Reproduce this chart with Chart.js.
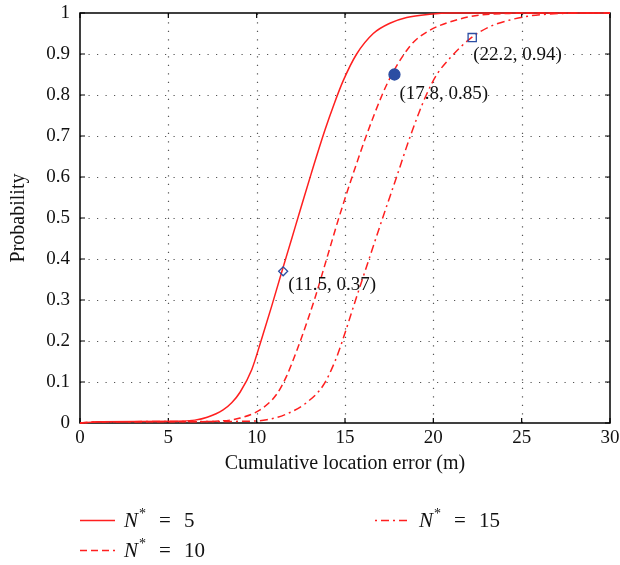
<!DOCTYPE html>
<html>
<head>
<meta charset="utf-8">
<script src="https://cdn.jsdelivr.net/npm/chart.js@4/dist/chart.umd.min.js"></script>
<style>
  html, body { margin: 0; padding: 0; background: #fff; }
  #wrap { width: 620px; height: 565px; }
</style>
</head>
<body>
<div id="wrap"><canvas id="c" width="620" height="565"></canvas></div>
<script>
// ---- data ----
const n5X  = [0, 1.2, 5.5, 6.5, 7.2, 8.1, 8.6, 9.06, 9.72, 10.28, 10.85, 11.41, 12.0, 12.45, 13.1, 13.87, 14.4, 14.9, 15.66, 16.6, 17.54, 18.49, 19.8, 21, 30];
const n5Y  = [0, 0.003, 0.004, 0.007, 0.014, 0.032, 0.05, 0.075, 0.13, 0.205, 0.285, 0.367, 0.452, 0.517, 0.61, 0.715, 0.78, 0.835, 0.9, 0.95, 0.975, 0.989, 0.997, 1, 1];
const n10X = [0, 1.2, 6, 8, 9.06, 10.19, 11.13, 11.7, 12.3, 12.8, 13.3, 13.96, 14.65, 15.4, 16.2, 17.1, 17.65, 18.35, 18.9, 19.8, 21.3, 22.64, 24.3, 26, 30];
const n10Y = [0, 0.003, 0.003, 0.005, 0.012, 0.032, 0.07, 0.115, 0.18, 0.24, 0.305, 0.4, 0.5, 0.6, 0.7, 0.8, 0.85, 0.9, 0.93, 0.958, 0.983, 0.995, 0.999, 1, 1];
const n15X = [0, 1.2, 9, 10.57, 11.7, 12.83, 13.77, 14.43, 14.85, 15.6, 16.4, 17.17, 17.92, 18.7, 19.6, 20.2, 20.94, 22.1, 23.2, 24.34, 25.47, 27.3, 28.5, 30];
const n15Y = [0, 0.003, 0.004, 0.008, 0.022, 0.05, 0.092, 0.15, 0.2, 0.3, 0.405, 0.505, 0.6, 0.7, 0.8, 0.85, 0.89, 0.938, 0.967, 0.983, 0.993, 0.999, 1, 1];
const seriesLabels = ['5', '10', '15'];
const markerX = [11.5, 17.8, 22.2];
const markerY = [0.37, 0.85, 0.94];
const markerLabels = ['(11.5, 0.37)', '(17.8, 0.85)', '(22.2, 0.94)'];
const xTickLabels = ['0', '5', '10', '15', '20', '25', '30'];
const yTickLabels = ['0', '0.1', '0.2', '0.3', '0.4', '0.5', '0.6', '0.7', '0.8', '0.9', '1'];

const SERIF = "'Liberation Serif', 'Times New Roman', serif";
const RED = '#ff1f1f';
const BLUE = '#2c4ea3';
const pts = (xs, ys) => xs.map((x, i) => ({ x, y: ys[i] }));

const decor = {
  id: 'decor',
  beforeDatasetsDraw(chart) {
    const { ctx, chartArea: a, scales: { x, y } } = chart;
    ctx.save();
    // dotted grid
    ctx.strokeStyle = '#555';
    ctx.lineWidth = 1.2;
    ctx.setLineDash([1.2, 7.3]);
    ctx.beginPath();
    x.ticks.forEach(t => {
      const p = Math.round(x.getPixelForValue(t.value)) + 0.5;
      if (p > a.left + 2 && p < a.right - 2) { ctx.moveTo(p, a.bottom); ctx.lineTo(p, a.top); }
    });
    y.ticks.forEach(t => {
      const p = Math.round(y.getPixelForValue(t.value)) + 0.5;
      if (p > a.top + 2 && p < a.bottom - 2) { ctx.moveTo(a.left, p); ctx.lineTo(a.right, p); }
    });
    ctx.stroke();
    ctx.setLineDash([]);
    // frame
    ctx.strokeStyle = '#000';
    ctx.lineWidth = 1.5;
    ctx.strokeRect(a.left, a.top, a.right - a.left, a.bottom - a.top);
    // inner ticks
    ctx.lineWidth = 1.2;
    ctx.beginPath();
    x.ticks.forEach(t => {
      const p = x.getPixelForValue(t.value);
      ctx.moveTo(p, a.bottom); ctx.lineTo(p, a.bottom - 5);
      ctx.moveTo(p, a.top); ctx.lineTo(p, a.top + 5);
    });
    y.ticks.forEach(t => {
      const p = y.getPixelForValue(t.value);
      ctx.moveTo(a.left, p); ctx.lineTo(a.left + 5, p);
      ctx.moveTo(a.right, p); ctx.lineTo(a.right - 5, p);
    });
    ctx.stroke();
    ctx.restore();
  },
  afterDatasetsDraw(chart) {
    const { ctx, scales: { x, y } } = chart;
    const off = [[5, 14], [5, 20], [1, 17]];
    ctx.save();
    ctx.font = '19px ' + SERIF;
    ctx.fillStyle = '#111';
    ctx.textBaseline = 'middle';
    ctx.textAlign = 'left';
    markerLabels.forEach((s, i) => {
      ctx.fillText(s, x.getPixelForValue(markerX[i]) + off[i][0], y.getPixelForValue(markerY[i]) + off[i][1]);
    });
    ctx.restore();
  },
  afterDraw(chart) {
    const { ctx } = chart;
    const spots = [[80, 520], [80, 550], [375, 520]];
    const dashes = [[], [7, 4], [2, 4, 8, 4]];
    ctx.save();
    seriesLabels.forEach((lab, i) => {
      const [lx, ly] = spots[i];
      ctx.strokeStyle = RED;
      ctx.lineWidth = 1.6;
      ctx.setLineDash(dashes[i]);
      ctx.beginPath();
      ctx.moveTo(lx, ly + 0.5); ctx.lineTo(lx + 35, ly + 0.5);
      ctx.stroke();
      ctx.setLineDash([]);
      ctx.fillStyle = '#111';
      ctx.textBaseline = 'middle';
      ctx.textAlign = 'left';
      const tx = lx + 44;
      ctx.font = 'italic 21px ' + SERIF;
      ctx.fillText('N', tx, ly + 1);
      const nw = ctx.measureText('N').width;
      ctx.font = '14px ' + SERIF;
      ctx.fillText('*', tx + nw + 1, ly - 6);
      ctx.font = '21px ' + SERIF;
      ctx.fillText('=', tx + 35, ly + 1);
      ctx.fillText(lab, tx + 60, ly + 1);
    });
    ctx.restore();
  }
};

const lineBase = { showLine: true, pointRadius: 0, borderColor: RED, borderWidth: 1.5, cubicInterpolationMode: 'monotone', clip: 4, order: 1, fill: false };

new Chart(document.getElementById('c'), {
  type: 'scatter',
  data: {
    datasets: [
      { label: 'N* = 5', data: pts(n5X, n5Y), ...lineBase },
      { label: 'N* = 10', data: pts(n10X, n10Y), ...lineBase, borderDash: [7, 4] },
      { label: 'N* = 15', data: pts(n15X, n15Y), ...lineBase, borderDash: [8, 4, 2, 4] },
      {
        label: 'markers', data: pts(markerX, markerY), showLine: false, order: 0, clip: false,
        pointStyle: ['rectRot', 'circle', 'rect'], pointRadius: [4.5, 5.5, 5.8],
        backgroundColor: ['rgba(0,0,0,0)', BLUE, 'rgba(0,0,0,0)'], borderColor: BLUE, borderWidth: 1.3
      }
    ]
  },
  options: {
    responsive: false,
    animation: false,
    layout: { padding: { top: 13, right: 10, bottom: 85, left: 0 } },
    plugins: { legend: { display: false }, tooltip: { enabled: false } },
    scales: {
      x: {
        type: 'linear', min: 0, max: 30,
        afterBuildTicks: s => { s.ticks = xTickLabels.map(v => ({ value: Number(v) })); },
        afterFit: s => { s.height = 57; s.paddingLeft = 0; s.paddingRight = 0; s.paddingTop = 0; s.paddingBottom = 0; },
        grid: { display: false, drawTicks: false }, border: { display: false },
        ticks: { padding: 4, color: '#111', font: { family: SERIF, size: 19 }, maxRotation: 0,
                 callback: (v, i) => xTickLabels[i] },
        title: { display: true, text: 'Cumulative location error (m)', color: '#111',
                 font: { family: SERIF, size: 20 }, padding: { top: 0, bottom: 4 } }
      },
      y: {
        type: 'linear', min: 0, max: 1,
        afterBuildTicks: s => { s.ticks = yTickLabels.map(v => ({ value: Number(v) })); },
        afterFit: s => { s.width = 80; s.paddingTop = 0; s.paddingBottom = 0; s.paddingLeft = 0; s.paddingRight = 0; },
        grid: { display: false, drawTicks: false }, border: { display: false },
        ticks: { padding: 10, color: '#111', font: { family: SERIF, size: 19 },
                 callback: (v, i) => yTickLabels[i] },
        title: { display: true, text: 'Probability', color: '#111',
                 font: { family: SERIF, size: 20 }, padding: { top: 7, bottom: 0 } }
      }
    }
  },
  plugins: [decor]
});
</script>
</body>
</html>
